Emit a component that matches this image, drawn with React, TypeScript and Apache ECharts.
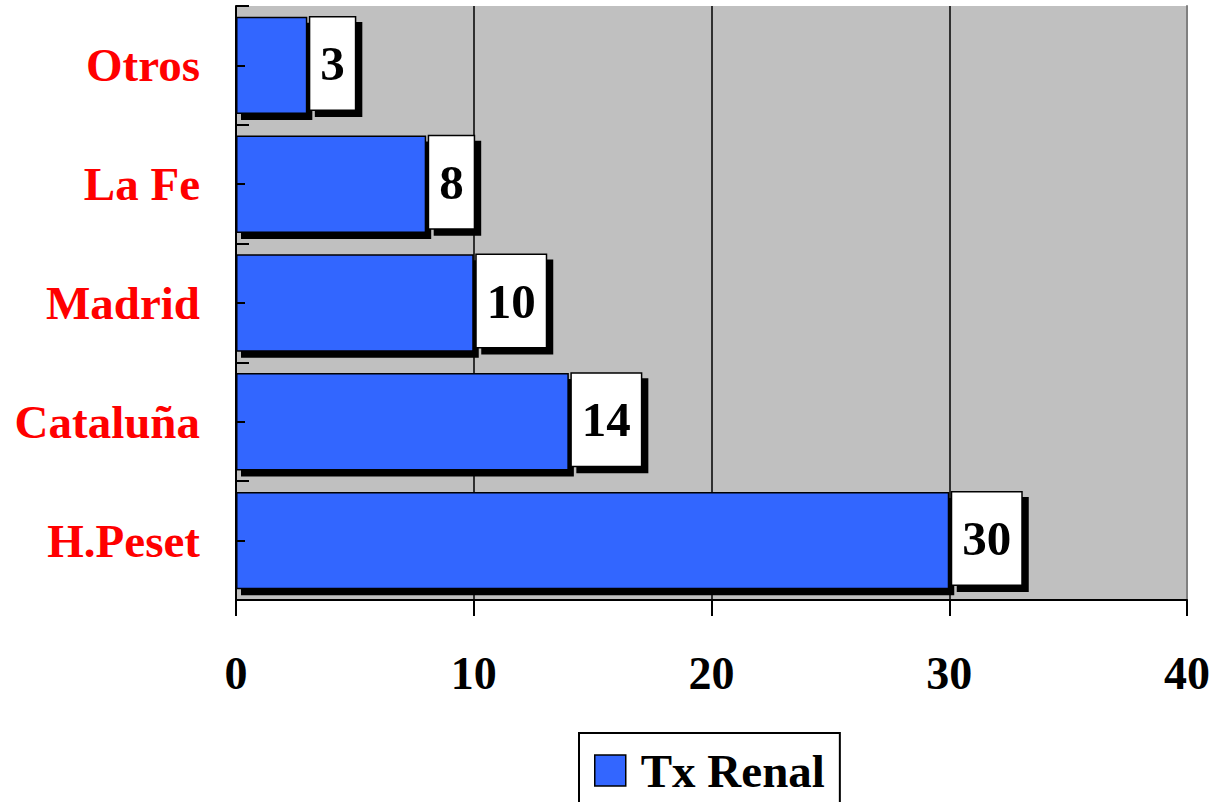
import React, { useEffect, useRef } from "react";
import * as echarts from "echarts";

const categories = ["H.Peset", "Cataluña", "Madrid", "La Fe", "Otros"];
const values = [30, 14, 10, 8, 3];
const seriesName = "Tx Renal";
const xMin = 0;
const xMax = 40;
const xInterval = 10;

const FONT = "'Liberation Serif', 'Times New Roman', serif";

export default function App() {
  const ref = useRef<HTMLDivElement>(null);
  useEffect(() => {
    if (!ref.current) return;
    const chart = echarts.init(ref.current, null, { renderer: "svg" });
    chart.setOption({
      animation: false,
      backgroundColor: "#ffffff",
      grid: {
        left: 236,
        right: 27,
        top: 6,
        bottom: 202,
        show: true,
        backgroundColor: "#C0C0C0",
        borderWidth: 0,
      },
      legend: {
        show: true,
        data: [seriesName],
        left: 579,
        top: 733,
        padding: [14, 15, 30, 15],
        backgroundColor: "#ffffff",
        borderColor: "#000000",
        borderWidth: 2,
        borderRadius: 0,
        itemWidth: 31,
        itemHeight: 31,
        icon: "rect",
        itemStyle: { color: "#3366FF", borderColor: "#000", borderWidth: 1.5 },
        textStyle: {
          fontFamily: FONT,
          fontWeight: "bold",
          fontSize: 47,
          lineHeight: 46,
          color: "#000",
          padding: [0, 0, 0, 10],
        },
      },
      xAxis: {
        type: "value",
        min: xMin,
        max: xMax,
        interval: xInterval,
        axisLine: { show: true, lineStyle: { color: "#000", width: 2 } },
        axisTick: { show: true, inside: false, length: 16, lineStyle: { color: "#000", width: 2 } },
        axisLabel: {
          margin: 50,
          fontFamily: FONT,
          fontWeight: "bold",
          fontSize: 46,
          color: "#000",
        },
        splitLine: {
          show: true,
          lineStyle: { color: ["#000", "#000", "#000", "#000", "#808080"], width: 1.5 },
        },
      },
      yAxis: [
        {
          type: "category",
          data: categories,
          position: "left",
          z: 10,
          axisLine: { show: true, lineStyle: { color: "#000", width: 2 } },
          axisTick: { show: true, inside: true, length: 13, lineStyle: { color: "#000", width: 2 } },
          axisLabel: {
            margin: 36,
            fontFamily: FONT,
            fontWeight: "bold",
            fontSize: 47,
            color: "#FF0000",
          },
          splitLine: { show: false },
        },
        {
          type: "category",
          data: categories,
          position: "left",
          offset: 0,
          z: 10,
          axisLine: { show: false },
          axisTick: { show: true, inside: true, alignWithLabel: true, length: 9, lineStyle: { color: "#000", width: 2 } },
          axisLabel: { show: false },
          splitLine: { show: false },
        },
        {
          type: "category",
          data: categories,
          position: "right",
          axisLine: { show: true, lineStyle: { color: "#808080", width: 2 } },
          axisTick: { show: false },
          axisLabel: { show: false },
          splitLine: { show: false },
        },
      ],
      series: [
        {
          name: seriesName,
          type: "bar",
          yAxisIndex: 0,
          data: values,
          barCategoryGap: "18%",
          itemStyle: {
            color: "#3366FF",
            borderColor: "#000",
            borderWidth: 1.5,
            shadowColor: "#000",
            shadowBlur: 0,
            shadowOffsetX: 5,
            shadowOffsetY: 6,
          },
          label: {
            show: true,
            position: "right",
            distance: 3,
            offset: [0, -2],
            fontFamily: FONT,
            fontWeight: "bold",
            fontSize: 49,
            lineHeight: 48,
            color: "#000",
            backgroundColor: "#ffffff",
            borderColor: "#000",
            borderWidth: 1.5,
            padding: [22, 10, 22, 10],
            shadowColor: "#000",
            shadowBlur: 0,
            shadowOffsetX: 6,
            shadowOffsetY: 6,
          },
        },
      ],
    });
    return () => chart.dispose();
  }, []);
  return (
    <div
      ref={ref}
      style={{ position: "fixed", left: 0, top: 0, width: 1214, height: 802 }}
    />
  );
}
